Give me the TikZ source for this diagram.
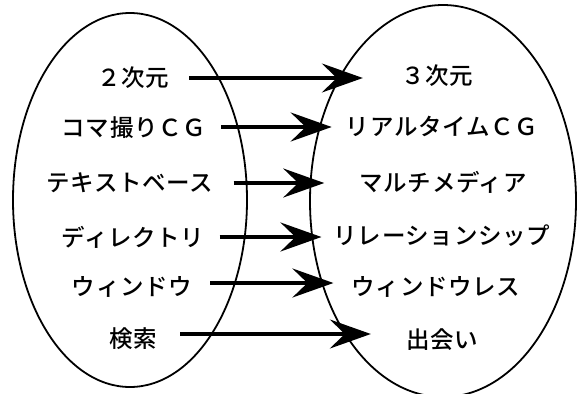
\documentclass[tikz,border=0pt]{standalone}
\usepackage{fontspec}
\newfontfamily\jp{Noto Sans CJK JP}[LetterSpace=3, BoldFont={Noto Sans CJK JP Medium}]
\usetikzlibrary{arrows.meta}
\tikzset{
  lbl/.style={font=\jp\bfseries\fontsize{23.5}{26}\selectfont, inner sep=0pt, anchor=center},
  blob/.style={draw=black, line width=1.8pt},
  arr/.style={line width=3.6pt, -{Stealth[length=41pt, width=29pt, inset=15pt]}}
}
\begin{document}
\begin{tikzpicture}[x=1pt, y=-1pt]
\useasboundingbox (0,0) rectangle (579,394);
\begin{scope}
\clip (0,0) rectangle (579,394);
\draw[blob] (130,200) ellipse [x radius=117, y radius=187];
\draw[blob] (443,201) ellipse [x radius=133, y radius=196];
\end{scope}
% left labels
\node[lbl] (l1) at (133,78) {２次元};
\node[lbl] (l2) at (134,128) {コマ撮りＣＧ};
\node[lbl] (l3) at (130,183) {テキストベース};
\node[lbl] (l4) at (133,237) {ディレクトリ};
\node[lbl] (l5) at (132,287) {ウィンドウ};
\node[lbl] (l6) at (133,339) {検索};
% right labels
\node[lbl] (r1) at (437,76) {３次元};
\node[lbl] (r2) at (442,126) {リアルタイムＣＧ};
\node[lbl] (r3) at (443,182) {マルチメディア};
\node[lbl] (r4) at (442,236) {リレーションシップ};
\node[lbl] (r5) at (436,287) {ウィンドウレス};
\node[lbl] (r6) at (442,340) {出会い};
% arrows
\draw[arr] ([xshift=20pt,yshift=0pt]l1.east) -- ([xshift=-38pt]l1.east -| r1.west);
\draw[arr] ([xshift=15pt,yshift=1pt]l2.east) -- ([xshift=-14pt,yshift=1pt]l2.east -| r2.west);
\draw[arr] ([xshift=20pt]l3.east) -- ([xshift=-35pt]l3.east -| r3.west);
\draw[arr] ([xshift=15pt]l4.east) -- ([xshift=-12pt]l4.east -| r4.west);
\draw[arr] ([xshift=18pt,yshift=4pt]l5.east) -- ([xshift=-18pt,yshift=4pt]l5.east -| r5.west);
\draw[arr] ([xshift=23pt,yshift=5pt]l6.east) -- ([xshift=-35pt,yshift=5pt]l6.east -| r6.west);
\end{tikzpicture}
\end{document}
